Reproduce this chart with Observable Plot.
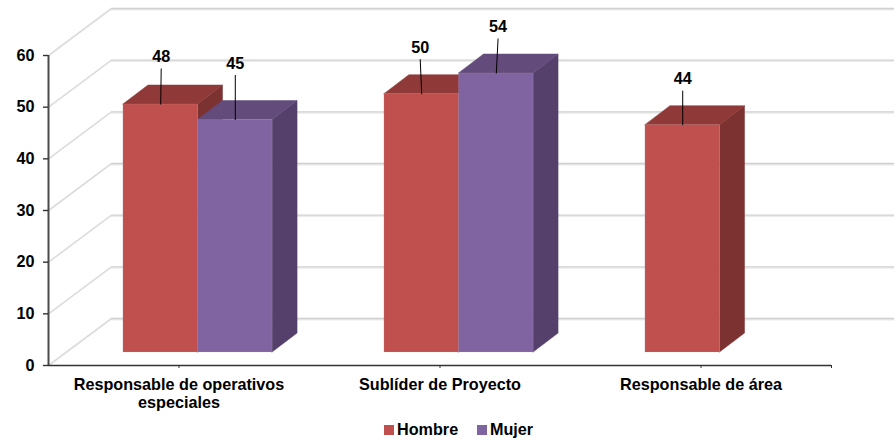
<!DOCTYPE html>
<html>
<head>
<meta charset="utf-8">
<script src="https://cdn.jsdelivr.net/npm/d3@7"></script>
<script src="https://cdn.jsdelivr.net/npm/@observablehq/plot@0.6"></script>
<style>
  html, body { margin: 0; padding: 0; background: #fff; }
  body { width: 895px; font-family: "Liberation Sans", Arial, sans-serif; }
  svg { display: block; overflow: visible; }
  #legend { position: relative; height: 22px; font-weight: bold; font-size: 16.2px; color: #000; }
  #legend span { position: absolute; top: 2px; line-height: 18px; white-space: nowrap; }
  #legend i { position: absolute; top: 7px; width: 10px; height: 10px; }
</style>
</head>
<body>
<div id="chart"></div>
<div id="legend"></div>
<script>
const categories = ["Responsable de operativos\nespeciales", "Sublíder de Proyecto", "Responsable de área"];
const seriesNames = ["Hombre", "Mujer"];
const hombre = [48, 50, 44];
const mujer = [45, 54, null];
const yTicks = [0, 10, 20, 30, 40, 50, 60];
// leader line rise (in px) and horizontal lean for each data label
const leaderRise = { Hombre: [36, 35, 34.5], Mujer: [45, 35, 0] };
const leaderLean = { Hombre: [0.5, -1.5, 0], Mujer: [0, 1.8, 0] };

const faceColors = {
  Hombre: { front: "#C0504D", top: "#8F3A38", side: "#7C3230" },
  Mujer: { front: "#8064A2", top: "#634C7C", side: "#54406A" }
};

// plot frame
const W = 895, H = 418, left = 48, right = 831, top0 = 55, bottom = 365;
const pxX = (right - left) / 3;          // px per category band
const pxY = (bottom - top0) / 60;        // px per value unit
const toX = px => px / pxX, toY = px => px / pxY;

// pseudo-3D projection, expressed in data units
const wallX = toX(63), wallY = toY(47);   // back wall offset
const baseX = toX(19), baseY = toY(13);   // front of the bars
const depthX = toX(25), depthY = toY(19); // bar depth
const barW = 1 / 3.5, barPad = 0.75 / 3.5;

const bars = [];
seriesNames.forEach((s, k) => {
  (k === 0 ? hombre : mujer).forEach((v, i) => {
    if (v == null) return;
    const x1 = i + barPad + k * barW + baseX;
    bars.push({ s, k, i, v, key: s + i, x1, x2: x1 + barW, y0: baseY, y1: v + baseY });
  });
});

const side = bars.flatMap(b => [
  { ...b, x: b.x2, lo: b.y0, hi: b.y1 },
  { ...b, x: b.x2 + depthX, lo: b.y0 + depthY, hi: b.y1 + depthY }
]);
const topFace = bars.flatMap(b => [
  { ...b, y: b.y1, a: b.x1, c: b.x2 },
  { ...b, y: b.y1 + depthY, a: b.x1 + depthX, c: b.x2 + depthX }
]);

const seriesMarks = seriesNames.flatMap(s => {
  const c = faceColors[s], only = d => d.s === s;
  return [
    Plot.areaY(side.filter(only), { x: "x", y1: "lo", y2: "hi", z: "key", fill: c.side, stroke: c.side, strokeWidth: 0.5 }),
    Plot.areaX(topFace.filter(only), { y: "y", x1: "a", x2: "c", z: "key", fill: c.top, stroke: c.top, strokeWidth: 0.5 }),
    Plot.rect(bars.filter(only), { x1: "x1", x2: "x2", y1: "y0", y2: "y1", fill: c.front, stroke: "#C9A9A8", strokeOpacity: 0.35, strokeWidth: 0.5 })
  ];
});

const leaders = bars.map(b => ({
  x1: (b.x1 + b.x2) / 2,
  y1: b.y1,
  x2: (b.x1 + b.x2) / 2 + toX(leaderLean[b.s][b.i]),
  y2: b.y1 + toY(leaderRise[b.s][b.i]),
  v: b.v
}));

const chart = Plot.plot({
  width: W, height: H,
  marginLeft: left, marginRight: W - right, marginTop: top0, marginBottom: H - bottom,
  style: { fontFamily: '"Liberation Sans", Arial, sans-serif', background: "#fff" },
  x: { domain: [0, 3], axis: null },
  y: { domain: [0, 60], axis: null },
  marks: [
    // back wall
    Plot.ruleY(yTicks, { y: d => d + wallY - toY(1.2), x1: wallX, x2: 3 + wallX, stroke: "#EBEBEB", strokeWidth: 1.5 }),
    Plot.ruleY(yTicks, { y: d => d + wallY, x1: wallX, x2: 3 + wallX, stroke: "#D0D0D0", strokeWidth: 1.4 }),
    // side wall
    Plot.link(yTicks, { x1: 0, y1: d => d, x2: wallX, y2: d => d + wallY, stroke: "#DCDCDC", strokeWidth: 1.6 }),
    // bars
    ...seriesMarks,
    // leaders and labels
    Plot.link(leaders, { x1: "x1", y1: "y1", x2: "x2", y2: "y2", stroke: "#000", strokeWidth: 1 }),
    Plot.text(leaders, { x: "x2", y: "y2", text: "v", dy: -11.5, fontSize: 16.2, fontWeight: "bold", fill: "#000" }),
    // axes
    Plot.ruleX([0], { y1: 0, y2: 60, stroke: "#4A4A4A", strokeWidth: 2 }),
    Plot.ruleY([0], { x1: 0, x2: 3, stroke: "#333", strokeWidth: 1.6 }),
    Plot.axisY({
      ticks: yTicks, tickSize: 5, tickPadding: 9, stroke: "#333", strokeWidth: 1.4,
      fontSize: 16.2, fontWeight: "bold", fill: "#000", label: null
    }),
    Plot.axisX({
      ticks: [0.5, 1.5, 2.5, 3], tickSize: 3, tickPadding: 9, stroke: "#333", strokeWidth: 1,
      tickFormat: d => d === 3 ? "" : categories[Math.floor(d)],
      fontSize: 16.2, fontWeight: "bold", fill: "#000", lineHeight: 1.11, label: null
    })
  ]
});
document.getElementById("chart").append(chart);

const legendPos = [{ sw: 384, tx: 397 }, { sw: 477, tx: 490 }];
const legend = document.getElementById("legend");
seriesNames.forEach((s, k) => {
  const sw = document.createElement("i");
  sw.style.left = legendPos[k].sw + "px";
  sw.style.background = faceColors[s].front;
  const t = document.createElement("span");
  t.style.left = legendPos[k].tx + "px";
  t.textContent = s;
  legend.append(sw, t);
});
</script>
</body>
</html>
